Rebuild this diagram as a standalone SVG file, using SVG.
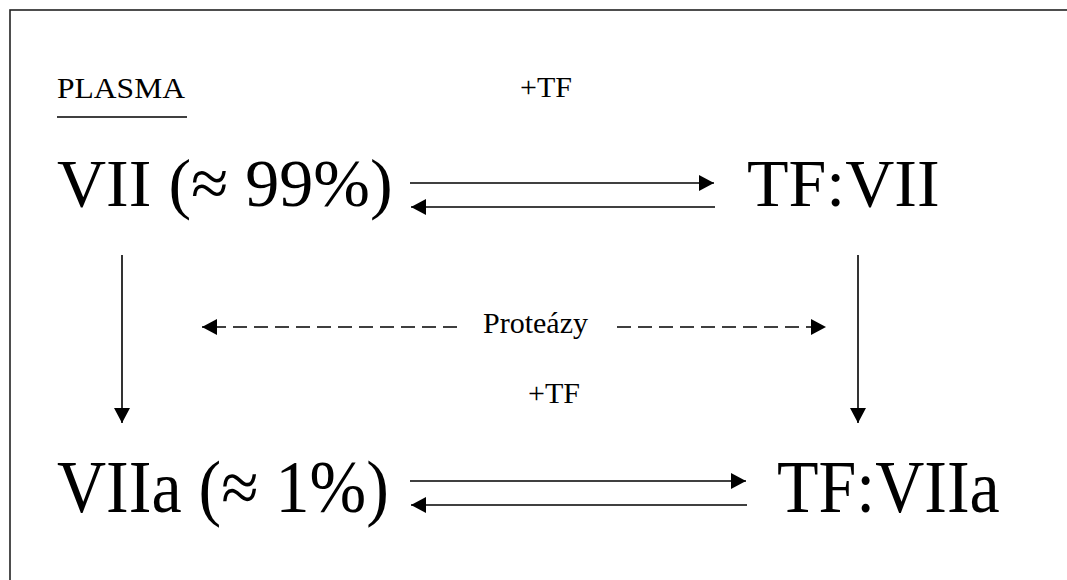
<svg xmlns="http://www.w3.org/2000/svg" width="1067" height="580" viewBox="0 0 1067 580">
  <style>
    .small { font-family: "Liberation Serif", "Times New Roman", serif; font-size: 30px; fill: #000; }
    .big { font-family: "Liberation Serif", "Times New Roman", serif; font-size: 68px; fill: #000; }
    .line { stroke: #000; stroke-width: 1.6; fill: none; }
    .dash { stroke: #000; stroke-width: 1.6; fill: none; stroke-dasharray: 14 7; }
    .frame { stroke: #222; stroke-width: 1.6; fill: none; }
  </style>
  <defs>
    <marker id="head" markerUnits="userSpaceOnUse" markerWidth="16" markerHeight="16" refX="15" refY="8" orient="auto">
      <path d="M0,0 L15,8 L0,16 Z" fill="#000"/>
    </marker>
  </defs>

  <rect class="frame" x="10" y="10" width="1080" height="600" fill="#fff"/>

  <g id="plasma-label">
    <text class="small" x="57" y="98" textLength="128" lengthAdjust="spacingAndGlyphs">PLASMA</text>
    <line class="line" x1="57" y1="117" x2="187" y2="117"/>
  </g>

  <g id="node-vii">
    <text class="big" x="57" y="206">VII (≈ 99%)</text>
  </g>
  <g id="node-tf-vii">
    <text class="big" x="747" y="206">TF:VII</text>
  </g>
  <!-- lower row is set slightly taller -->
  <g id="node-viia" transform="translate(0,512) scale(1,1.08)">
    <text class="big" x="57" y="0">VIIa (≈ 1%)</text>
  </g>
  <g id="node-tf-viia" transform="translate(0,512) scale(1,1.08)">
    <text class="big" x="777" y="0">TF:VIIa</text>
  </g>

  <g id="labels">
    <text class="small" x="520" y="97">+TF</text>
    <text class="small" x="483" y="333">Proteázy</text>
    <text class="small" x="528" y="403">+TF</text>
  </g>

  <g id="connectors">
    <!-- top equilibrium -->
    <line class="line" x1="410" y1="183" x2="714" y2="183" marker-end="url(#head)"/>
    <line class="line" x1="715" y1="207" x2="411" y2="207" marker-end="url(#head)"/>
    <!-- activation arrows -->
    <line class="line" x1="122" y1="255" x2="122" y2="423" marker-end="url(#head)"/>
    <line class="line" x1="858" y1="255" x2="858" y2="423" marker-end="url(#head)"/>
    <!-- proteases -->
    <line class="dash" x1="457" y1="327" x2="202" y2="327" marker-end="url(#head)"/>
    <line class="dash" x1="617" y1="327" x2="826" y2="327" marker-end="url(#head)"/>
    <!-- bottom equilibrium -->
    <line class="line" x1="410" y1="481" x2="746" y2="481" marker-end="url(#head)"/>
    <line class="line" x1="747" y1="505" x2="411" y2="505" marker-end="url(#head)"/>
  </g>
</svg>
